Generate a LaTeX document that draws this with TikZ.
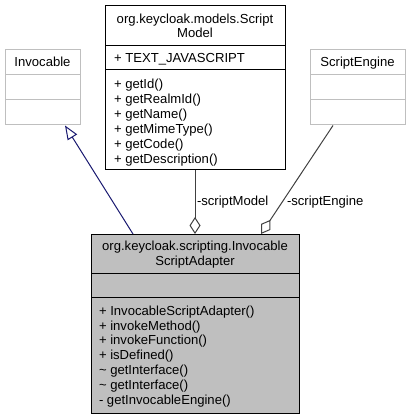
\documentclass[tikz,border=0pt]{standalone}
\usepackage{fontspec}
\setmainfont{Liberation Sans}
\usetikzlibrary{arrows.meta}
\definecolor{maingray}{HTML}{BFBFBF}
\definecolor{lightedge}{HTML}{BFBFBF}
\definecolor{navyedge}{HTML}{191970}
\definecolor{aggedge}{HTML}{404040}
\begin{document}
\begin{tikzpicture}[x=1pt,y=-1pt,
  txt/.style={inner sep=0pt, outer sep=0pt, font=\fontsize{13.1}{15}\selectfont, text height=10pt, text depth=1.4pt},
  umlbox/.style={draw=black, line width=1pt, fill=white, inner sep=0pt, outer sep=0pt, anchor=north west},
  extbox/.style={umlbox, draw=lightedge},
  mainbox/.style={umlbox, fill=maingray},
  inh/.style={draw=navyedge, line width=1pt, -{Triangle[open, length=14pt, width=11pt, line width=1pt]}},
  agg/.style={draw=aggedge, line width=1pt, {Diamond[open, length=17pt, width=11pt, line width=1pt]}-}
]
\useasboundingbox (0,0) rectangle (411,419);

% Invocable
\node[extbox, minimum width=75pt, minimum height=75pt] (inv) at (5,50) {};
\draw[lightedge, line width=1pt] (5,75) -- (80,75) (5,100) -- (80,100);
\node[txt] (invT) at (42.5,62) {Invocable};

% ScriptEngine
\node[extbox, minimum width=95pt, minimum height=75pt] (eng) at (310,50) {};
\draw[lightedge, line width=1pt] (310,75) -- (405,75) (310,100) -- (405,100);
\node[txt] (engT) at (357.5,62) {ScriptEngine};

% ScriptModel
\node[umlbox, minimum width=180pt, minimum height=164pt] (model) at (105,6) {};
\draw[line width=1pt] (105,46) -- (285,46) (105,70) -- (285,70);
\node[txt] (modelT1) at (195,19) {org.keycloak.models.Script};
\node[txt] (modelT2) at (195,33.5) {Model};
\node[txt, anchor=west] (modelA) at (114,58) {+ TEXT\_JAVASCRIPT};
\foreach \t [count=\i] in {getId(),getRealmId(),getName(),getMimeType(),getCode(),getDescription()}
  \node[txt, anchor=west] (modelM\i) at (114,{84+15*(\i-1)}) {+ \t};

% InvocableScriptAdapter
\node[mainbox, minimum width=208pt, minimum height=179pt] (main) at (91,234) {};
\draw[line width=1pt] (91,273) -- (299,273) (91,297) -- (299,297);
\node[txt] (mainT1) at (195,246.5) {org.keycloak.scripting.Invocable};
\node[txt] (mainT2) at (195,261) {ScriptAdapter};
\node[txt, anchor=west] (mainM1) at (99,311) {+ InvocableScriptAdapter()};
\node[txt, anchor=west] (mainM2) at (99,325.8) {+ invokeMethod()};
\node[txt, anchor=west] (mainM3) at (99,340.6) {+ invokeFunction()};
\node[txt, anchor=west] (mainM4) at (99,355.4) {+ isDefined()};
\node[txt, anchor=west] (mainM5) at (99,370.2) {\textasciitilde{} getInterface()};
\node[txt, anchor=west] (mainM6) at (99,385) {\textasciitilde{} getInterface()};
\node[txt, anchor=west] (mainM7) at (99,399.8) {- getInvocableEngine()};

% connectors
\coordinate (inhA) at (133,234);
\coordinate (inhB) at (65,125.5);
\draw[inh] (inhA) -- (inhB);

\draw[agg] (main.north) -- (model.south);
\node[txt, anchor=west] (lblModel) at (197,201) {-scriptModel};

\coordinate (engA) at (261,234);
\coordinate (engB) at (333,125.5);
\draw[agg] (engA) -- (engB);
\node[txt, anchor=west] (lblEng) at (287,201) {-scriptEngine};
\end{tikzpicture}
\end{document}
